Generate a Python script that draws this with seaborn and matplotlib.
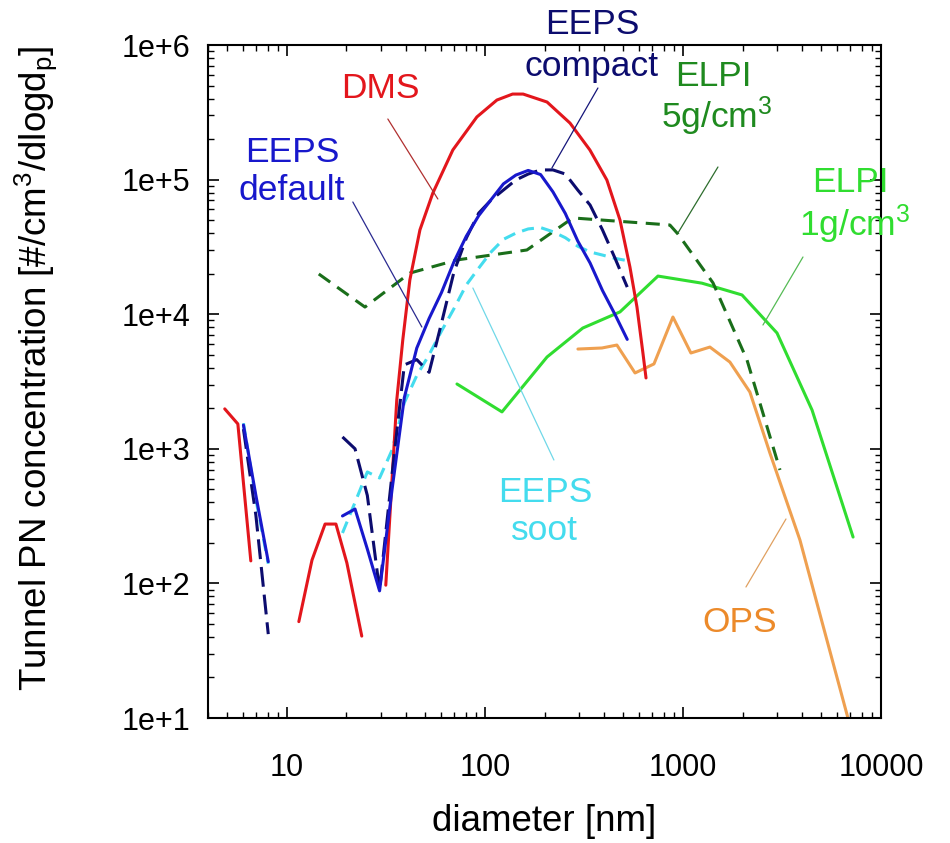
import numpy as np
import pandas as pd
import matplotlib
matplotlib.use("Agg")
import matplotlib.pyplot as plt
import seaborn as sns

# ---------------- data ----------------
# DMS (three segments)
dms_seg = [0, 0, 0,
           1, 1, 1, 1, 1, 1,
           2, 2, 2, 2, 2, 2, 2, 2, 2, 2, 2, 2, 2, 2, 2, 2, 2, 2, 2, 2]
dms_x = [4.86, 5.66, 6.58,
         11.5, 13.4, 15.6, 17.7, 20.1, 23.9,
         31.6, 35.9, 38.5, 41.8, 47.0, 54.6, 68.9, 91.1, 115, 138, 156,
         206, 269, 339, 413, 481, 540, 586, 628, 651]
dms_y = [1980, 1530, 147,
         52, 149, 276, 276, 142, 40.6,
         97, 2300, 6430, 17950, 42300, 79400, 166000, 292000, 390000, 432000, 432000,
         377000, 263000, 166000, 99300, 50100, 22400, 11300, 5150, 3360]

# EEPS size bins
eeps_bins_1 = [6.04, 6.98, 8.06]
eeps_bins_2 = [19.1, 22.1, 25.5, 29.4, 34.0, 39.2, 45.3, 52.3, 60.4, 69.8, 80.6,
               93.1, 107.5, 124.1, 143.3, 165.5, 191.1, 220.7, 254.8, 294.3,
               339.8, 392.4, 453.2, 523.3]

eeps_default_1 = [1500, 450, 145]
eeps_default_2 = [317, 357, 180, 88, 500, 2400, 5600, 9300, 14500, 24500, 38000,
                  54000, 71000, 93000, 108000, 117000, 109000, 81000, 56000, 35000,
                  24000, 15000, 10000, 6500]

eeps_compact_1 = [1400, 320, 42]
eeps_compact_2 = [1225, 1000, 450, 89, 650, 4200, 4600, 3700, 8600, 20600, 36800,
                  56400, 70500, 83700, 99300, 110000, 118000, 118000, 110000, 83700,
                  64700, 42300, 26200, 15900]

eeps_soot_1 = [1550, 420, 140]
eeps_soot_2 = [237, 400, 673, 607, 980, 2200, 3500, 5000, 7500, 11000, 16500,
               22000, 29000, 36000, 40000, 43000, 44000, 41000, 37000, 32000,
               29000, 27500, 26000, 25000]

elpi5_x = [14.5, 24.8, 41.8, 72.3, 163, 278, 859, 944, 1418, 2106, 3090]
elpi5_y = [19900, 11300, 20200, 25300, 30000, 51900, 46000, 39400, 17100, 4570, 696]

elpi1_x = [72.3, 122, 206, 312, 481, 748, 1248, 1987, 2985, 4487, 7228]
elpi1_y = [3030, 1880, 4810, 7890, 10400, 19200, 17000, 13900, 7250, 1940, 221]

ops_x = [295, 390, 464, 573, 714, 890, 1097, 1368, 1726, 2178, 2748, 3897, 6808]
ops_y = [5510, 5610, 5900, 3660, 4270, 9530, 5150, 5700, 4410, 2640, 931, 210, 10]

x_ticks = [10, 100, 1000, 10000]
x_ticklabels = ["10", "100", "1000", "10000"]
y_ticks = [1e1, 1e2, 1e3, 1e4, 1e5, 1e6]
y_ticklabels = ["1e+1", "1e+2", "1e+3", "1e+4", "1e+5", "1e+6"]

# ---------------- figure ----------------
sns.set_theme(style="ticks")
FONTS = ["Liberation Sans", "DejaVu Sans"]
plt.rcParams["font.family"] = FONTS
plt.rcParams["mathtext.fontset"] = "custom"
plt.rcParams["mathtext.rm"] = "Liberation Sans"
plt.rcParams["mathtext.it"] = "Liberation Sans"
plt.rcParams["text.color"] = "black"
plt.rcParams["axes.labelcolor"] = "black"
plt.rcParams["xtick.color"] = "black"
plt.rcParams["ytick.color"] = "black"

fig = plt.figure(figsize=(9.5, 8.43), dpi=100)
ax = fig.add_axes([208 / 950, 1 - 718 / 843, (881 - 208) / 950, (718 - 45) / 843])
ax.set_xscale("log")
ax.set_yscale("log")

LW = 2.2

def seg_df(xs, ys, segs):
    return pd.DataFrame({"x": xs, "y": ys, "seg": segs})

def eeps_df(v1, v2):
    return seg_df(eeps_bins_1 + eeps_bins_2, v1 + v2,
                  [0] * len(eeps_bins_1) + [1] * len(eeps_bins_2))

C_DMS = "#e3161c"
C_DEF = "#1818cc"
C_CMP = "#0c0c6e"
C_SOOT = "#44dcee"
C_E5 = "#1a6e1a"
C_E1 = "#30dd30"
C_OPS = "#efa050"

common = dict(x="x", y="y", units="seg", estimator=None, sort=False, ax=ax,
              legend=False)

sns.lineplot(data=seg_df(elpi1_x, elpi1_y, [0] * len(elpi1_x)), color=C_E1,
             linewidth=LW, **common)
sns.lineplot(data=seg_df(ops_x, ops_y, [0] * len(ops_x)), color=C_OPS,
             linewidth=LW, **common)
sns.lineplot(data=seg_df(elpi5_x, elpi5_y, [0] * len(elpi5_x)), color=C_E5,
             linewidth=LW, linestyle=(0, (4.6, 2.8)), **common)
sns.lineplot(data=eeps_df(eeps_soot_1, eeps_soot_2), color=C_SOOT,
             linewidth=LW, linestyle=(0, (4.0, 2.4)), **common)
sns.lineplot(data=seg_df(dms_x, dms_y, dms_seg), color=C_DMS,
             linewidth=LW, **common)
sns.lineplot(data=eeps_df(eeps_compact_1, eeps_compact_2), color=C_CMP,
             linewidth=LW, linestyle=(0, (6.5, 2.6)), **common)
sns.lineplot(data=eeps_df(eeps_default_1, eeps_default_2), color=C_DEF,
             linewidth=LW, **common)

ax.set_xlim(4, 10000)
ax.set_ylim(10, 1e6)

# ---------------- annotations (in pixel -> data) ----------------
def px2data(px, py):
    lx = 1 + (px - 287) / 198.0
    ly = 6 - (py - 45) / 134.6
    return 10 ** lx, 10 ** ly

def leader(p0, p1, color):
    a = px2data(*p0)
    b = px2data(*p1)
    ax.plot([a[0], b[0]], [a[1], b[1]], color=color, lw=0.9, zorder=5)

leader((388, 119), (438, 199), "#b03030")
leader((353, 202), (422, 327), "#2a2a90")
leader((598, 88), (552, 168), "#15157a")
leader((718, 167), (678, 233), "#2d6d2d")
leader((803, 257), (763, 325), "#55bb55")
leader((473, 288), (554, 460), "#70d8e8")
leader((786, 519), (746, 587), "#e0a060")

FS = 25.5
def label(px, py, s, color):
    x, y = px2data(px, py)
    ax.text(x, y, s, color=color, fontsize=FS, ha="center", va="center",
            clip_on=False, zorder=6)

label(381, 88, "DMS", "#e3161c")
label(592, 24, "EEPS", "#0c0c6e")
label(592, 66, "compact", "#0c0c6e")
label(713, 76, "ELPI", "#1f8a1f")
label(717, 116, "5g/cm$^3$", "#1f8a1f")
label(292, 152, "EEPS", "#1818cc")
label(292, 191, "default", "#1818cc")
label(850, 182, "ELPI", "#30dd30")
label(855, 224, "1g/cm$^3$", "#30dd30")
label(545, 492, "EEPS", "#44dcee")
label(545, 530, "soot", "#44dcee")
label(740, 622, "OPS", "#ec8a2a")

# ---------------- axes styling ----------------
ax.set_xticks(x_ticks)
ax.set_xticklabels(x_ticklabels)
ax.set_yticks(y_ticks)
ax.set_yticklabels(y_ticklabels)
ax.xaxis.set_minor_locator(matplotlib.ticker.LogLocator(base=10, subs=np.arange(2, 10)))
ax.yaxis.set_minor_locator(matplotlib.ticker.LogLocator(base=10, subs=np.arange(2, 10)))
ax.xaxis.set_minor_formatter(matplotlib.ticker.NullFormatter())
ax.yaxis.set_minor_formatter(matplotlib.ticker.NullFormatter())
ax.tick_params(which="both", direction="in", top=True, right=True, color="black")
ax.tick_params(which="major", length=8, width=1.2)
ax.tick_params(which="minor", length=4.5, width=1.0)
ax.tick_params(axis="x", which="major", labelsize=22, pad=25)
ax.tick_params(axis="y", which="major", labelsize=22, pad=13)
for sp in ax.spines.values():
    sp.set_color("black")
    sp.set_linewidth(1.5)
ax.grid(False)

ax.set_xlabel("diameter [nm]", fontsize=26.5)
ax.xaxis.set_label_coords(0.5, -0.128)
ax.set_ylabel("Tunnel PN concentration [#/cm$^3$/dlogd$_\\mathrm{p}$]", fontsize=26.5)
ax.yaxis.set_label_coords(-0.222, 0.52)

fig.savefig("out.png", dpi=100, facecolor="white")
